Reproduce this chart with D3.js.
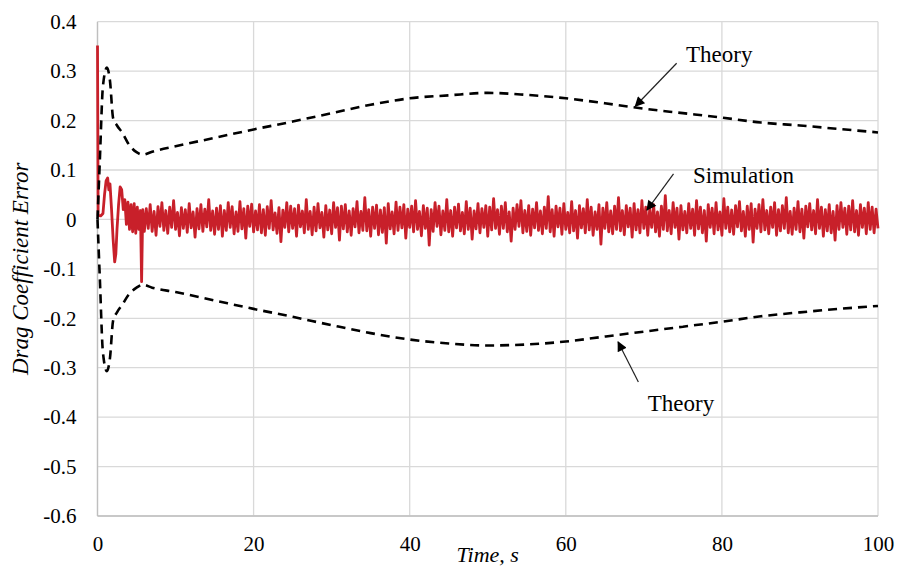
<!DOCTYPE html>
<html>
<head>
<meta charset="utf-8">
<script src="https://cdn.jsdelivr.net/npm/d3@7"></script>
<style>
  body { margin: 0; background: #fff; }
  svg { display: block; }
  svg text { font-family: "Liberation Serif", "Times New Roman", serif; fill: #000; }
</style>
</head>
<body>
<div id="app"></div>
<script>
const SERIF = '"Liberation Serif", "Times New Roman", serif'

// axis ticks
const xTicks = [0, 20, 40, 60, 80, 100]
const yTicks = [0.4, 0.3, 0.2, 0.1, 0, -0.1, -0.2, -0.3, -0.4, -0.5, -0.6]
const yTickLabels = ['0.4', '0.3', '0.2', '0.1', '0', '-0.1', '-0.2', '-0.3', '-0.4', '-0.5', '-0.6']

// theory envelope
const theoryT = [0, 0.3, 0.7, 1.2, 1.6, 2.0, 2.5, 3.2, 4.0, 5, 5.8, 7, 10, 15, 20, 25, 30, 35, 40, 45, 50, 55, 60, 65, 70, 75, 80, 85, 90, 95, 100]
const theoryUpper = [0, 0.12, 0.27, 0.307, 0.28, 0.205, 0.19, 0.175, 0.152, 0.136, 0.131, 0.137, 0.148, 0.165, 0.182, 0.198, 0.215, 0.232, 0.245, 0.251, 0.256, 0.252, 0.245, 0.235, 0.224, 0.215, 0.206, 0.196, 0.19, 0.183, 0.176]
const theoryLower = [0, -0.12, -0.27, -0.307, -0.28, -0.205, -0.188, -0.172, -0.152, -0.138, -0.132, -0.138, -0.147, -0.164, -0.181, -0.197, -0.214, -0.23, -0.243, -0.251, -0.255, -0.253, -0.247, -0.237, -0.227, -0.217, -0.207, -0.196, -0.188, -0.181, -0.175]

// simulation: start-up transient
const simEarlyT = [0, 0.08, 0.4, 0.7, 0.9, 1.1, 1.3, 1.45, 1.6, 1.8, 2.0, 2.2, 2.35, 2.5, 2.7, 2.9, 3.1, 3.3, 3.5, 3.7, 3.9, 4.1, 4.3, 4.5, 4.7, 4.9, 5.1, 5.3, 5.5, 5.65, 5.8, 6.0]
const simEarlyV = [0.352, 0.008, 0.007, 0.012, 0.05, 0.078, 0.084, 0.06, 0.072, 0.02, -0.04, -0.086, -0.07, -0.02, 0.03, 0.066, 0.06, 0.02, 0.04, -0.01, 0.035, -0.02, 0.03, -0.025, 0.032, -0.028, 0.025, -0.02, 0.018, -0.126, 0.02, -0.024]
// simulation: steady noise, one sample every 0.25 s from 6.25 s to 100 s
const simNoise = [
  .022,-.018,.030,-.024,.016,-.032,.026,-.014,.034,-.022,.018,-.028,.025,-.016,.038,-.020,.014,-.033,.024,-.018,
  .020,-.026,.032,-.017,.015,-.036,.022,-.019,.030,-.024,.021,-.015,.040,-.022,.017,-.030,.023,-.020,.028,-.034,
  .018,-.022,.034,-.016,.026,-.029,.015,-.024,.036,-.019,.022,-.038,.027,-.014,.031,-.025,.017,-.021,.030,-.027,
  .020,-.032,.026,-.018,.038,-.021,.013,-.028,.024,-.045,.019,-.016,.034,-.025,.027,-.018,.022,-.034,.029,-.015,
  .017,-.027,.040,-.020,.016,-.031,.025,-.023,.032,-.017,.014,-.036,.028,-.021,.019,-.029,.034,-.016,.024,-.042,
  .027,-.019,.030,-.025,.017,-.032,.022,-.015,.036,-.027,.016,-.022,.044,-.023,.020,-.034,.025,-.018,.029,-.031,
  .019,-.026,.024,-.048,.032,-.019,.015,-.029,.035,-.022,.025,-.017,.030,-.038,.021,-.016,.027,-.025,.038,-.020,
  .016,-.033,.028,-.018,.023,-.052,.020,-.024,.034,-.014,.027,-.031,.017,-.022,.040,-.025,.018,-.034,.025,-.017,
  .031,-.023,.014,-.029,.036,-.020,.023,-.040,.017,-.019,.032,-.027,.022,-.016,.028,-.034,.025,-.021,.042,-.018,
  .020,-.030,.027,-.018,.034,-.025,.015,-.044,.023,-.020,.030,-.014,.038,-.027,.018,-.024,.028,-.032,.021,-.017,
  .034,-.022,.017,-.029,.025,-.018,.046,-.025,.020,-.034,.027,-.015,.023,-.030,.032,-.020,.014,-.027,.036,-.023,
  .018,-.038,.028,-.017,.022,-.027,.040,-.021,.025,-.032,.015,-.020,.030,-.050,.023,-.018,.034,-.025,.017,-.029,
  .027,-.020,.044,-.023,.018,-.031,.028,-.015,.023,-.036,.032,-.021,.020,-.027,.038,-.018,.025,-.032,.021,-.016,
  .030,-.025,.015,-.034,.027,-.020,.048,-.023,.018,-.029,.034,-.016,.023,-.040,.028,-.021,.016,-.027,.032,-.018,
  .021,-.032,.038,-.019,.025,-.027,.018,-.044,.030,-.016,.023,-.029,.034,-.021,.015,-.032,.042,-.018,.025,-.025,
  .019,-.030,.028,-.015,.036,-.023,.016,-.034,.027,-.020,.032,-.046,.021,-.018,.030,-.025,.040,-.021,.018,-.029,
  .025,-.016,.034,-.032,.020,-.023,.028,-.018,.044,-.027,.016,-.030,.023,-.020,.036,-.025,.021,-.038,.027,-.015,
  .032,-.021,.018,-.029,.040,-.018,.025,-.034,.020,-.023,.030,-.027,.016,-.042,.028,-.020,.034,-.016,.023,-.030,
  .027,-.021,.038,-.025,.018,-.032,.030,-.016,.023,-.029,.034,-.020,.025,-.027,.021,-.018
]

// annotations: [text, textT, textV, arrowFromT, arrowFromV, arrowToT, arrowToV]
const notes = [
  ['Theory', 75.4, 0.319, 74.2, 0.316, 68.9, 0.229],
  ['Simulation', 76.3, 0.0735, 73.8, 0.092, 70.4, 0.019],
  ['Theory', 70.5, -0.388, 69.3, -0.329, 66.7, -0.248]
]

const W = 899, H = 567
const svg = d3.select('#app').append('svg').attr('width', W).attr('height', H)

const x = d3.scaleLinear().domain([0, 100]).range([97.5, 878])
const y = d3.scaleLinear().domain([-0.6, 0.4]).range([516, 21.7])

// grid
const grid = svg.append('g')
grid.selectAll('line.h').data(yTicks).enter().append('line')
  .attr('x1', x(0)).attr('x2', x(100))
  .attr('y1', d => y(d)).attr('y2', d => y(d))
  .attr('stroke', '#d9d9d9').attr('stroke-width', 1.3)
grid.selectAll('line.v').data(xTicks).enter().append('line')
  .attr('y1', y(0.4)).attr('y2', y(-0.6))
  .attr('x1', d => x(d)).attr('x2', d => x(d))
  .attr('stroke', '#d9d9d9').attr('stroke-width', 1.3)
// axis lines
svg.append('line').attr('x1', x(0)).attr('x2', x(0)).attr('y1', y(0.4)).attr('y2', y(-0.6))
  .attr('stroke', '#bfbfbf').attr('stroke-width', 1.3)
svg.append('line').attr('x1', x(0)).attr('x2', x(100)).attr('y1', y(-0.6)).attr('y2', y(-0.6))
  .attr('stroke', '#bfbfbf').attr('stroke-width', 1.3)

// tick labels
svg.append('g').attr('transform', `translate(${x(0)},0)`)
  .call(d3.axisLeft(y).tickValues(yTicks).tickSize(0).tickPadding(21)
    .tickFormat((d, i) => yTickLabels[i]))
  .attr('font-family', SERIF)
svg.append('g').attr('transform', `translate(0,${y(-0.6)})`)
  .call(d3.axisBottom(x).tickValues(xTicks).tickSize(0).tickPadding(20))
  .attr('font-family', SERIF)
svg.selectAll('.domain').remove()
svg.selectAll('.tick text').style('font-size', '21px').style('font-family', SERIF)

// axis titles
svg.append('text').attr('transform', 'rotate(-90)')
  .attr('x', -y(-0.1)).attr('y', 28).attr('text-anchor', 'middle')
  .style('font-family', SERIF).style('font-size', '23px').style('font-style', 'italic')
  .text('Drag Coefficient Error')
svg.append('text').attr('x', x(50)).attr('y', 562).attr('text-anchor', 'middle')
  .style('font-family', SERIF).style('font-size', '22px').style('font-style', 'italic')
  .text('Time, s')

// simulation line
const simData = simEarlyT.map((t, i) => [t, simEarlyV[i]])
  .concat(simNoise.map((v, i) => [6 + (i + 1) * (94 / simNoise.length), v]))
const line = d3.line().x(d => x(d[0])).y(d => y(d[1]))
svg.append('path').datum(simData).attr('d', line)
  .attr('fill', 'none').attr('stroke', '#c8202a').attr('stroke-width', 2.8)
  .attr('stroke-linejoin', 'round')

// theory lines
const smooth = d3.line().x(d => x(d[0])).y(d => y(d[1])).curve(d3.curveMonotoneX)
for (const vals of [theoryUpper, theoryLower]) {
  svg.append('path').datum(theoryT.map((t, i) => [t, vals[i]])).attr('d', smooth)
    .attr('fill', 'none').attr('stroke', '#000').attr('stroke-width', 2.6)
    .attr('stroke-dasharray', '9,6')
}

// annotations
svg.append('defs').append('marker').attr('id', 'arr')
  .attr('viewBox', '0 0 10 10').attr('refX', 9).attr('refY', 5)
  .attr('markerWidth', 13).attr('markerHeight', 10).attr('markerUnits', 'userSpaceOnUse')
  .attr('orient', 'auto')
  .append('path').attr('d', 'M0,0L10,5L0,10Z').attr('fill', '#000')
const ann = svg.append('g')
notes.forEach(n => {
  ann.append('line').attr('x1', x(n[3])).attr('y1', y(n[4])).attr('x2', x(n[5])).attr('y2', y(n[6]))
    .attr('stroke', '#222').attr('stroke-width', 1.2).attr('marker-end', 'url(#arr)')
  ann.append('text').attr('x', x(n[1])).attr('y', y(n[2]))
    .style('font-family', SERIF).style('font-size', '23px').text(n[0])
})
</script>
</body>
</html>
